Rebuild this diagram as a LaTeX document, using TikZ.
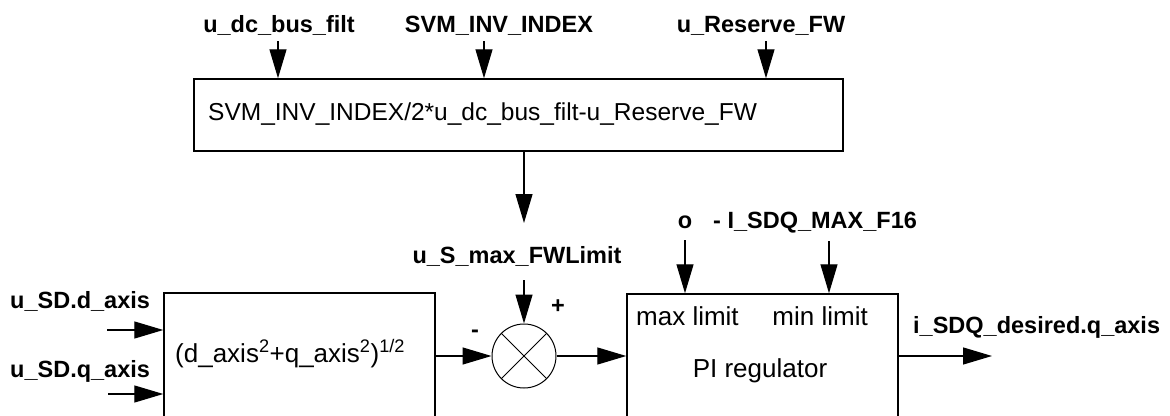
\documentclass[tikz,border=0pt]{standalone}
\usepackage{fontspec}
\setmainfont{Liberation Sans}
\usetikzlibrary{arrows.meta}
\begin{document}
\begin{tikzpicture}[x=1pt,y=-1pt,
  blk/.style={draw, line width=1.5pt, inner sep=0pt},
  arr/.style={line width=1.3pt, -{Triangle[length=29pt,width=17pt]}},
  lbl/.style={font=\fontsize{23.5}{28}\selectfont\bfseries, inner sep=0pt},
  txt/.style={font=\fontsize{26}{30}\selectfont, inner sep=0pt},
  toptxt/.style={font=\fontsize{24.5}{29}\selectfont, inner sep=0pt},
]
\useasboundingbox (0,0) rectangle (1170,415);
\clip (0,0) rectangle (1170,415);

% blocks
\node[blk, minimum width=649pt, minimum height=72pt] (top) at (518.5,115) {};
\node[blk, minimum width=271pt, minimum height=180pt] (lbox) at (299.5,383) {};
\node[blk, minimum width=271pt, minimum height=180pt] (pib) at (762.5,384) {};
\node[draw, circle, line width=1pt, minimum size=64pt, inner sep=0pt] (sum) at (524,356) {};
\draw[line width=1pt] (sum.north west) -- (sum.south east) (sum.north east) -- (sum.south west);

% block texts
\node[toptxt, anchor=base west] (toptext) at (208,120) {SVM\_INV\_INDEX/2*u\_dc\_bus\_filt-u\_Reserve\_FW};
\node[txt, anchor=base west] (ftext) at (175,362) {(d\_axis\textsuperscript{2}+q\_axis\textsuperscript{2})\textsuperscript{1/2}};
\node[txt, anchor=base west] (maxl) at (636,325) {max limit};
\node[txt, anchor=base east] (minl) at (868,325) {min limit};
\node[txt, anchor=base] (pireg) at (760,377) {PI regulator};

% signal labels
\node[lbl, anchor=base] (l1) at (279,32) {u\_dc\_bus\_filt};
\node[lbl, anchor=base] (l2) at (499,32) {SVM\_INV\_INDEX};
\node[lbl, anchor=base] (l3) at (761,32) {u\_Reserve\_FW};
\node[lbl, anchor=base] (l4) at (517,263) {u\_S\_max\_FWLimit};
\node[lbl, anchor=base] (l5) at (685,228) {o};
\node[lbl, anchor=base west] (l6) at (713,228) {- I\_SDQ\_MAX\_F16};
\node[lbl, anchor=base west] (l7) at (10,308) {u\_SD.d\_axis};
\node[lbl, anchor=base west] (l8) at (10,377) {u\_SD.q\_axis};
\node[lbl, anchor=base west] (l9) at (913,333) {i\_SDQ\_desired.q\_axis};
\node[lbl] (plus) at (558,307) {+};
\node[lbl] (minus) at (475,334) {-};

% connectors
\coordinate (s1) at (278,41);
\coordinate (s2) at (484,41);
\coordinate (s3) at (766,41);
\coordinate (fw) at (524,223);
\coordinate (s4) at (524,280);
\coordinate (d1) at (107,330);
\coordinate (q1) at (108,394);
\coordinate (o1) at (685,240);
\coordinate (m1) at (829,241);
\coordinate (out) at (992,356);

\draw[arr] (s1) -- (s1 |- top.north);
\draw[arr] (s2) -- (s2 |- top.north);
\draw[arr] (s3) -- (s3 |- top.north);
\draw[arr] (top.south -| fw) -- (fw);
\draw[arr] (s4) -- (sum.north);
\draw[arr] (d1) -- (d1 -| lbox.west);
\draw[arr] (q1) -- (q1 -| lbox.west);
\draw[arr] (sum.west -| lbox.east) -- (sum.west);
\draw[arr] (sum.east) -- (sum.east -| pib.west);
\draw[arr] (o1) -- (o1 |- pib.north);
\draw[arr] (m1) -- (m1 |- pib.north);
\draw[arr] (out -| pib.east) -- (out);
\end{tikzpicture}
\end{document}
